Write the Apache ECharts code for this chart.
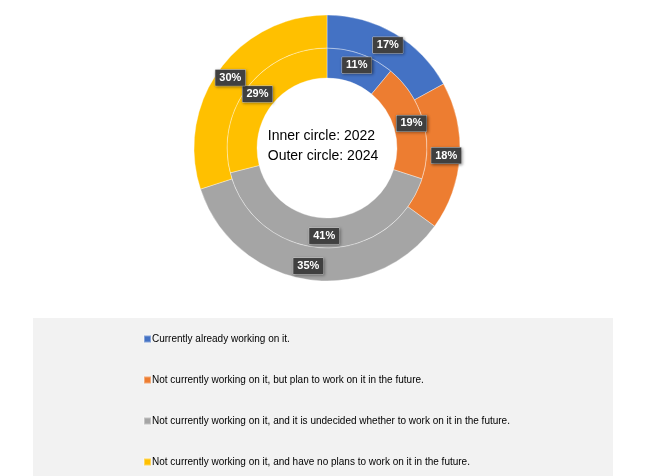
<!DOCTYPE html>
<html>
<head>
<meta charset="utf-8">
<script src="https://cdn.jsdelivr.net/npm/echarts@6/dist/echarts.min.js"></script>
<style>
  html, body { margin: 0; padding: 0; background: #fff; }
  #chart { width: 646px; height: 476px; }
</style>
</head>
<body>
<div id="chart"></div>
<script>
// categories and values
const categories = [
  "Currently already working on it.",
  "Not currently working on it, but plan to work on it in the future.",
  "Not currently working on it, and it is undecided whether to work on it in the future.",
  "Not currently working on it, and have no plans to work on it in the future."
];
const values2022 = [11, 19, 41, 29];
const values2024 = [17, 18, 35, 30];
const colors = ["#4472C4", "#ED7D31", "#A5A5A5", "#FFC000"];

const chart = echarts.init(document.getElementById("chart"));

// dark label box like the original
const labelStyle = {
  show: true,
  position: "inside",
  formatter: "{c}%",
  color: "#fff",
  fontWeight: "bold",
  fontSize: 11,
  fontFamily: "Liberation Sans, Arial",
  backgroundColor: "#404040",
  borderColor: "#d9d9d9",
  borderWidth: 0.5,
  padding: [3, 4, 2, 4],
  shadowColor: "rgba(0,0,0,0.4)",
  shadowBlur: 3,
  shadowOffsetX: 1,
  shadowOffsetY: 1
};

chart.setOption({
  color: colors,
  animation: false,
  graphic: [
    {
      type: "rect",
      left: 33,
      top: 318,
      shape: { width: 580, height: 158 },
      style: { fill: "#f2f2f2" },
      z: -10
    },
    {
      type: "text",
      left: "center",
      top: 126,
      style: {
        text: "Inner circle: 2022\nOuter circle: 2024",
        fill: "#000",
        font: "14px Liberation Sans, Arial",
        lineHeight: 20,
        textAlign: "left"
      },
      z: 10
    }
  ],
  legend: {
    orient: "vertical",
    left: 138,
    top: 329,
    height: 160,
    itemWidth: 7,
    itemHeight: 7,
    itemGap: 31,
    icon: "rect",
    textStyle: { fontSize: 10, color: "#000", fontFamily: "Liberation Sans, Arial", padding: [0, 0, 0, -4] },
    data: categories
  },
  series: [
    {
      name: "2022",
      type: "pie",
      center: [327, 148],
      radius: [70, 100],
      startAngle: 90,
      clockwise: true,
      avoidLabelOverlap: false,
      labelLayout: { hideOverlap: false },
      itemStyle: { borderColor: "rgba(255,255,255,0.35)", borderWidth: 1 },
      label: labelStyle,
      labelLine: { show: false },
      emphasis: { disabled: true },
      data: categories.map((n, i) => ({ name: n, value: values2022[i] }))
    },
    {
      name: "2024",
      type: "pie",
      center: [327, 148],
      radius: [100, 133],
      startAngle: 90,
      clockwise: true,
      avoidLabelOverlap: false,
      labelLayout: { hideOverlap: false },
      itemStyle: { borderColor: "rgba(255,255,255,0.35)", borderWidth: 1 },
      label: labelStyle,
      labelLine: { show: false },
      emphasis: { disabled: true },
      data: categories.map((n, i) => ({ name: n, value: values2024[i] }))
    }
  ]
});
</script>
</body>
</html>
